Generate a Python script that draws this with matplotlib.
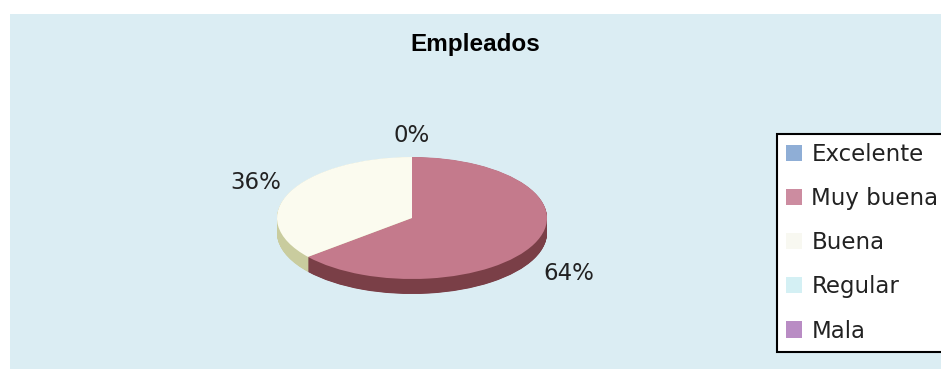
import numpy as np
import matplotlib
matplotlib.use("Agg")
import matplotlib.pyplot as plt
from matplotlib.patches import Patch, Rectangle

# Survey results: employee ratings (percent)
categories = ["Excelente", "Muy buena", "Buena", "Regular", "Mala"]
values = [0, 64, 36, 0, 0]

top_colors = ["#8faed6", "#c47a8c", "#fbfbef", "#d4f0f4", "#b98cc4"]
side_colors = ["#5f7fa8", "#7a3f47", "#c9cc9e", "#a8c8cc", "#86608f"]
legend_colors = ["#8faed6", "#cc8ca0", "#f8f8f1", "#d4f0f4", "#b98cc4"]

W, H = 941, 369
fig = plt.figure(figsize=(W / 100, H / 100), dpi=100)
fig.patch.set_facecolor("white")
# panel background
fig.patches.append(Rectangle((10 / W, 0), 1 - 10 / W, 1 - 14 / H,
                             transform=fig.transFigure, facecolor="#dbedf3",
                             edgecolor="none", zorder=0))

fig.text(475 / W, 1 - 45 / H, "Empleados", ha="center", va="center",
         fontsize=17.5, fontweight="bold", family="Liberation Sans")

# pie axes: radius 1 -> 135 px horizontally, 61 px vertically (tilted disc)
cx, cy = 412, H - 218
rx, ry = 135, 61
ax = fig.add_axes([(cx - 2 * rx) / W, (cy - 2 * ry) / H, 4 * rx / W, 4 * ry / H])
ax.set_zorder(2)
ax.patch.set_visible(False)

depth = 15 / ry
for k in np.linspace(depth, 0.0, 40, endpoint=False):
    ax.pie(values, colors=side_colors, startangle=90, counterclock=False,
           center=(0, -k), wedgeprops=dict(linewidth=0, antialiased=True))
ax.pie(values, colors=top_colors, startangle=90, counterclock=False,
       center=(0, 0), wedgeprops=dict(linewidth=0, antialiased=True))

# percentage labels at each slice's mid angle
total = sum(values)
start = 90.0
for cat, v in zip(categories, values):
    span = 360.0 * v / total
    mid = np.deg2rad(start - span / 2)
    start -= span
    if cat in ("Regular", "Mala"):
        continue
    x = 1.28 * np.cos(mid)
    y = 1.35 * np.sin(mid)
    if np.sin(mid) < 0:
        y -= 0.33
    ax.text(x, y, f"{v:.0f}%", ha="center", va="center", fontsize=16.5,
            family="DejaVu Sans", color="#222222")

ax.set_aspect("auto")
ax.set_xlim(-2, 2)
ax.set_ylim(-2, 2)
ax.axis("off")

handles = [Patch(facecolor=c, edgecolor="none") for c in legend_colors]
leg = fig.legend(handles, categories, loc="upper left",
                 bbox_to_anchor=(777 / W, 1 - 134 / H), bbox_transform=fig.transFigure,
                 frameon=True, fancybox=False, edgecolor="black", facecolor="white",
                 framealpha=1, borderaxespad=0, borderpad=0.4,
                 handlelength=0.7, handleheight=0.7, handletextpad=0.4,
                 labelspacing=0.92, prop=dict(family="DejaVu Sans", size=16.5))
leg.get_frame().set_linewidth(1.5)
for t in leg.get_texts():
    t.set_color("#222222")

fig.savefig("out.png", dpi=100)
